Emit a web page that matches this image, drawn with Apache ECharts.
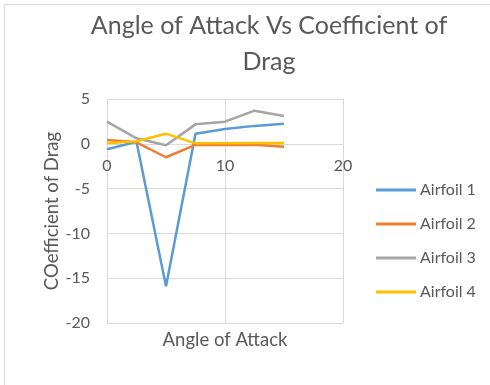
<!DOCTYPE html>
<html>
<head>
<meta charset="utf-8">
<script src="https://cdn.jsdelivr.net/npm/echarts@6/dist/echarts.min.js"></script>
<style>
  html, body { margin: 0; padding: 0; background: #fff; }
  #chart { width: 490px; height: 385px; }
</style>
</head>
<body>
<div id="chart"></div>
<script>
// Angle of attack (degrees)
const angles = [0, 2.5, 5, 7.5, 10, 12.5, 15];
// Coefficient of drag per airfoil
const airfoil1 = [-0.6, 0.23, -15.9, 1.13, 1.65, 2.0, 2.24];
const airfoil2 = [0.42, 0.17, -1.5, -0.13, -0.13, -0.1, -0.32];
const airfoil3 = [2.47, 0.61, -0.17, 2.17, 2.47, 3.7, 3.1];
const airfoil4 = [0.05, 0.28, 1.13, 0.05, 0.05, 0.1, 0.1];
const seriesNames = ['Airfoil 1', 'Airfoil 2', 'Airfoil 3', 'Airfoil 4'];
const seriesColors = ['#5B9BD5', '#ED7D31', '#A5A5A5', '#FFC000'];

const FONT = 'Lato';
const TEXT = '#595959';
const GRID = '#d9d9d9';

// Plot box
const GRID_TOP = 99, GRID_HEIGHT = 224;
const Y_MIN = -20, Y_MAX = 5;
// The x axis crosses the y axis at 0: shift it up from the bottom edge
const ZERO_SHIFT = GRID_HEIGHT * (0 - Y_MIN) / (Y_MAX - Y_MIN);

const pair = (ys) => angles.map((x, i) => [x, ys[i]]);
const allValues = [airfoil1, airfoil2, airfoil3, airfoil4];

const chart = echarts.init(document.getElementById('chart'), null, { renderer: 'canvas' });
chart.setOption({
  animation: false,
  backgroundColor: '#fff',
  graphic: [{
    type: 'rect',
    shape: { x: 4.5, y: 4.5, width: 600, height: 500 },
    style: { fill: 'none', stroke: GRID, lineWidth: 1 },
    silent: true
  }],
  title: {
    text: 'Angle of Attack Vs Coefficient of\nDrag',
    left: 264,
    textAlign: 'center',
    top: 3,
    textStyle: { fontFamily: FONT, fontSize: 25, fontWeight: 'normal', color: TEXT, lineHeight: 36 }
  },
  legend: {
    orient: 'vertical',
    left: 371,
    top: 177,
    icon: 'rect',
    itemWidth: 40,
    itemHeight: 3,
    itemGap: 18,
    data: seriesNames,
    textStyle: { fontFamily: FONT, fontSize: 16, color: TEXT, lineHeight: 16, padding: [0, 0, 0, -1] }
  },
  grid: { left: 107, top: GRID_TOP, width: 236, height: GRID_HEIGHT, containLabel: false, outerBoundsMode: 'none' },
  xAxis: {
    type: 'value',
    min: 0, max: 20, interval: 10,
    offset: -ZERO_SHIFT,
    name: 'Angle of Attack',
    nameLocation: 'middle',
    nameGap: 187,
    nameTextStyle: { fontFamily: FONT, fontSize: 18.5, color: TEXT, verticalAlign: 'top' },
    axisLine: { show: true, onZero: false, lineStyle: { color: GRID, width: 1 } },
    axisTick: { show: false },
    axisLabel: { fontFamily: FONT, fontSize: 16, color: TEXT, margin: 14 },
    splitLine: { show: true, lineStyle: { color: GRID, width: 1 } }
  },
  yAxis: {
    type: 'value',
    min: Y_MIN, max: Y_MAX, interval: 5,
    name: 'COefficient of Drag',
    nameLocation: 'middle',
    nameGap: 45,
    nameTextStyle: { fontFamily: FONT, fontSize: 18.5, color: TEXT },
    axisLine: { show: false },
    axisTick: { show: false },
    axisLabel: { fontFamily: FONT, fontSize: 16, color: TEXT, margin: 17 },
    splitLine: { show: true, lineStyle: { color: GRID, width: 1 } }
  },
  series: seriesNames.map((name, i) => ({
    name,
    type: 'line',
    data: pair(allValues[i]),
    symbol: 'none',
    color: seriesColors[i],
    lineStyle: { width: 2.5, color: seriesColors[i] }
  }))
});
</script>
</body>
</html>
